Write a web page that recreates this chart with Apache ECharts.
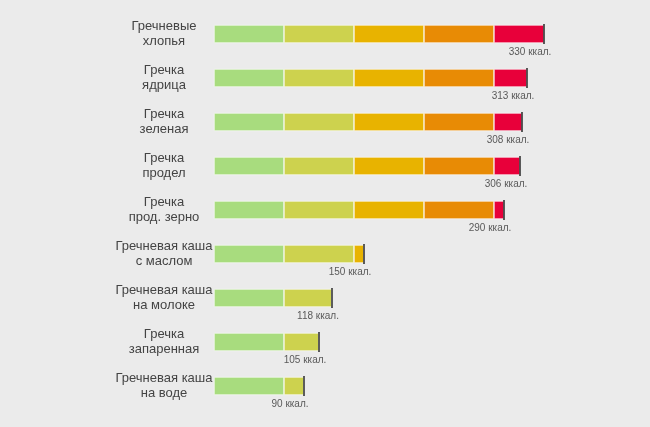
<!DOCTYPE html>
<html><head><meta charset="utf-8">
<script src="https://cdn.jsdelivr.net/npm/echarts@6/dist/echarts.min.js"></script>
<style>html,body{margin:0;background:#ebebeb}#c{width:650px;height:427px}</style>
</head><body><div id="c"></div>
<script>
const categories = ["Гречневые\nхлопья","Гречка\nядрица","Гречка\nзеленая","Гречка\nпродел","Гречка\nпрод. зерно","Гречневая каша\nс маслом","Гречневая каша\nна молоке","Гречка\nзапаренная","Гречневая каша\nна воде"];
const values = [330,313,308,306,290,150,118,105,90];
const step = 70;
const colors = ["#a8dc7e","#cdd24e","#e8b300","#e88b05","#e8003a"];
const segs = colors.map((c,i)=>({
  type:'bar', stack:'a', barWidth:18,
  data: values.map(v=>Math.max(0,Math.min(step, v-step*i))),
  itemStyle:{color:c, borderColor:'#ffffff', borderWidth:0.6},
  silent:true
}));
const chart = echarts.init(document.getElementById('c'));
chart.setOption({
  backgroundColor:'#ebebeb', animation:false,
  grid:{left:214,right:0,top:12,bottom:19},
  xAxis:{type:'value',min:0,max:436,show:false},
  yAxis:{type:'category',data:categories,inverse:true,
    axisLine:{show:false},axisTick:{show:false},
    axisLabel:{align:'center',margin:50,fontSize:13,lineHeight:15,color:'#444',fontFamily:'Liberation Sans'}},
  series:[...segs,{
    type:'scatter', symbol:'rect', symbolSize:[2,20],
    data: values.map((v,i)=>[v,i]),
    encode:{x:0,y:1},
    itemStyle:{color:'#333'},
    label:{show:true,position:'bottom',offset:[-14,-2],fontSize:10,color:'#333',fontFamily:'Liberation Sans',
      formatter:p=>p.value[0]+' ккал.'}
  }]
});
</script></body></html>
